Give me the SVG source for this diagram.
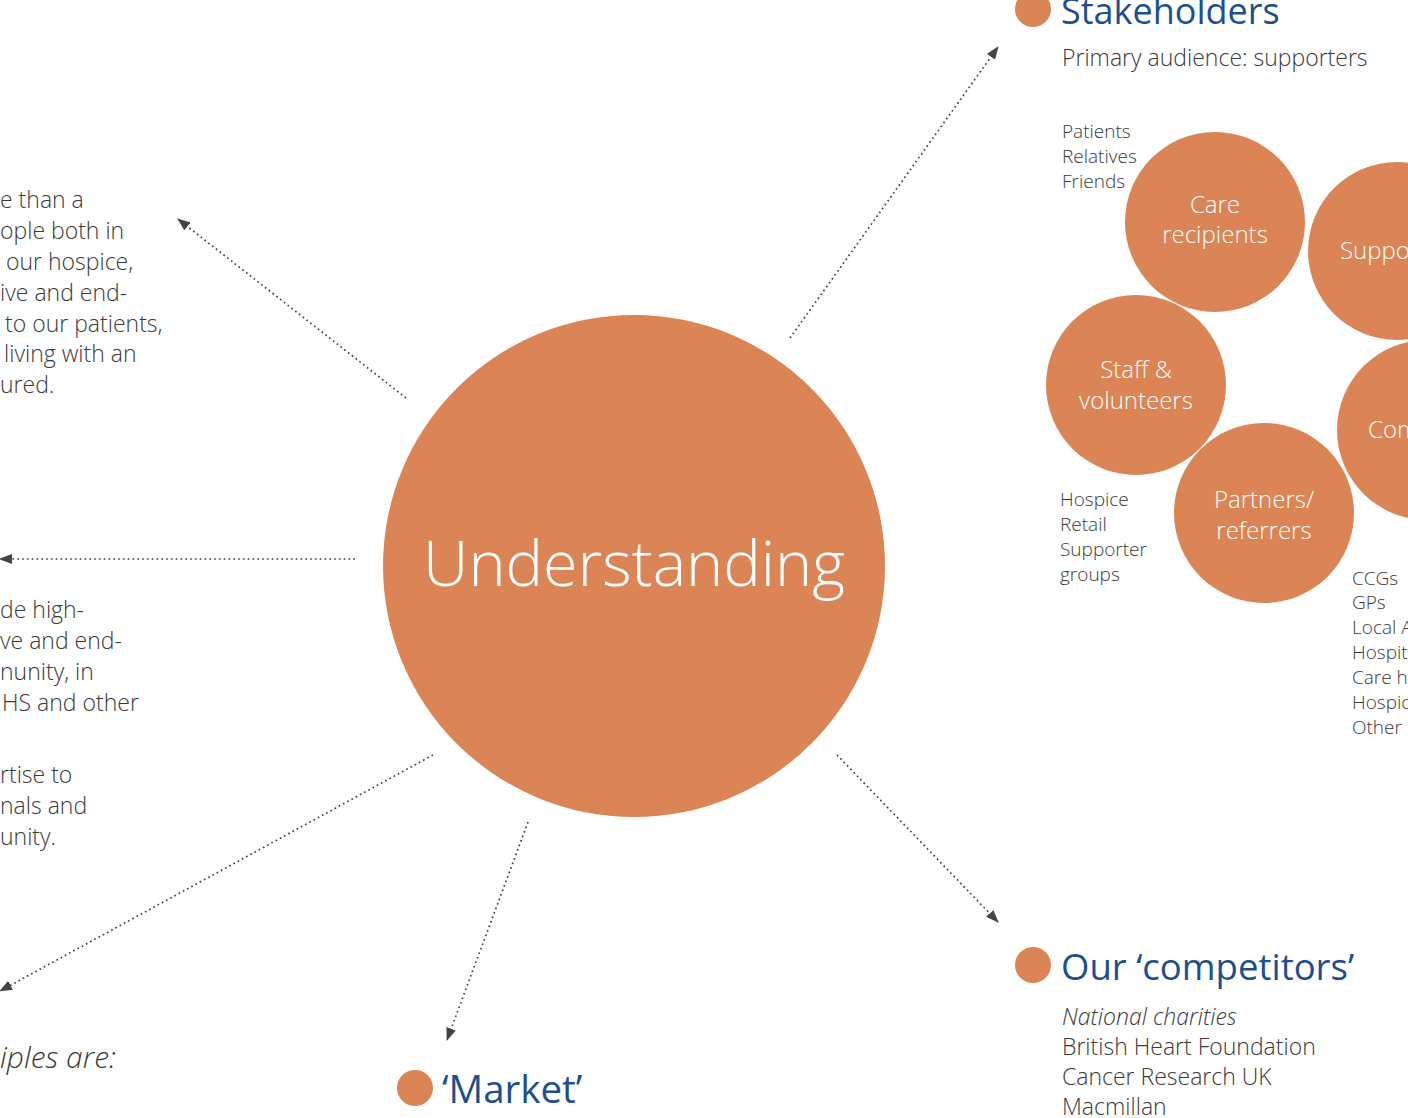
<svg xmlns="http://www.w3.org/2000/svg" width="1408" height="1118" viewBox="0 0 1408 1118">
<style>
.o{fill:#DB8556}
.t{font-family:"Open Sans","Noto Sans",sans-serif;font-weight:300;fill:#3a3a3a}
.b{font-size:23px}
.s{font-size:19px}
.w{font-family:"Open Sans","Noto Sans",sans-serif;font-weight:300;fill:#ffffff;font-size:24px;text-anchor:middle}
.h{font-family:"Open Sans","Noto Sans",sans-serif;font-weight:400;fill:#1D4F8E;font-size:36px}
.c{fill:none;stroke:#444;stroke-width:1.7;stroke-dasharray:1.7 3.1}
</style>
<defs>
<marker id="ah" viewBox="0 0 13 10" refX="12" refY="5" markerWidth="13" markerHeight="10" markerUnits="userSpaceOnUse" orient="auto">
<path d="M0,0 L13,5 L0,10 z" fill="#444"/>
</marker>
</defs>
<g id="connectors">
<line class="c" x1="790" y1="338" x2="998" y2="47" marker-end="url(#ah)"/>
<line class="c" x1="406" y1="398" x2="178" y2="219" marker-end="url(#ah)"/>
<line class="c" x1="355" y1="559" x2="0" y2="559" marker-end="url(#ah)"/>
<line class="c" x1="433" y1="755" x2="0" y2="991" marker-end="url(#ah)"/>
<line class="c" x1="528" y1="822" x2="447" y2="1040" marker-end="url(#ah)"/>
<line class="c" x1="837" y1="755" x2="998" y2="922" marker-end="url(#ah)"/>
</g>
<g id="understanding">
<circle class="o" cx="634" cy="566" r="251"/>
<text x="634" y="586" text-anchor="middle" style="font-family:'Open Sans','Noto Sans',sans-serif;font-weight:300;font-size:63px;fill:#fff">Understanding</text>
</g>
<g id="left-text-1" class="t b">
<text x="0" y="208">e than a</text>
<text x="0" y="239">ople both in</text>
<text x="6" y="270">our hospice,</text>
<text x="0" y="301">ive and end-</text>
<text x="5" y="332">to our patients,</text>
<text x="4" y="362">living with an</text>
<text x="0" y="393">ured.</text>
</g>
<g id="left-text-2" class="t b">
<text x="0" y="618">de high-</text>
<text x="0" y="649">ve and end-</text>
<text x="0" y="680">nunity, in</text>
<text x="2" y="711">HS and other</text>
<text x="0" y="783">rtise to</text>
<text x="0" y="814">nals and</text>
<text x="0" y="845">unity.</text>
</g>
<g id="principles">
<text x="0" y="1068" class="t" style="font-size:30px;font-style:italic">iples are:</text>
</g>
<g id="stakeholders">
<circle class="o" cx="1033" cy="9" r="18"/>
<text class="h" x="1061" y="24">Stakeholders</text>
<text class="t b" x="1062" y="66">Primary audience: supporters</text>
</g>
<g id="care-recipients">
<circle class="o" cx="1215" cy="222" r="90"/>
<text class="w" x="1215" y="213">Care</text>
<text class="w" x="1215" y="243">recipients</text>
<text class="t s" x="1062" y="138">Patients</text>
<text class="t s" x="1062" y="163">Relatives</text>
<text class="t s" x="1062" y="188">Friends</text>
</g>
<g id="supporters">
<circle class="o" cx="1397" cy="251" r="89"/>
<text class="w" x="1340" y="259" style="text-anchor:start">Suppor</text>
</g>
<g id="staff-volunteers">
<circle class="o" cx="1136" cy="385" r="90"/>
<text class="w" x="1136" y="378">Staff &amp;</text>
<text class="w" x="1136" y="409">volunteers</text>
<text class="t s" x="1060" y="506">Hospice</text>
<text class="t s" x="1060" y="531">Retail</text>
<text class="t s" x="1060" y="556">Supporter</text>
<text class="t s" x="1060" y="581">groups</text>
</g>
<g id="community">
<circle class="o" cx="1427" cy="430" r="90"/>
<text class="w" x="1368" y="438" style="text-anchor:start">Com</text>
</g>
<g id="partners-referrers">
<circle class="o" cx="1264" cy="513" r="90"/>
<text class="w" x="1264" y="508">Partners/</text>
<text class="w" x="1264" y="539">referrers</text>
<text class="t s" x="1352" y="585">CCGs</text>
<text class="t s" x="1352" y="609">GPs</text>
<text class="t s" x="1352" y="634">Local A</text>
<text class="t s" x="1352" y="659">Hospita</text>
<text class="t s" x="1352" y="684">Care ho</text>
<text class="t s" x="1352" y="709">Hospic</text>
<text class="t s" x="1352" y="734">Other l</text>
</g>
<g id="competitors">
<circle class="o" cx="1033" cy="965" r="18"/>
<text class="h" x="1061" y="980" style="font-size:36.5px">Our ‘competitors’</text>
<text class="t b" x="1062" y="1025" style="font-style:italic">National charities</text>
<text class="t b" x="1062" y="1055">British Heart Foundation</text>
<text class="t b" x="1062" y="1085">Cancer Research UK</text>
<text class="t b" x="1062" y="1115">Macmillan</text>
</g>
<g id="market">
<circle class="o" cx="415" cy="1088" r="18"/>
<text class="h" x="442" y="1103" style="font-size:38.5px">‘Market’</text>
</g>
</svg>
